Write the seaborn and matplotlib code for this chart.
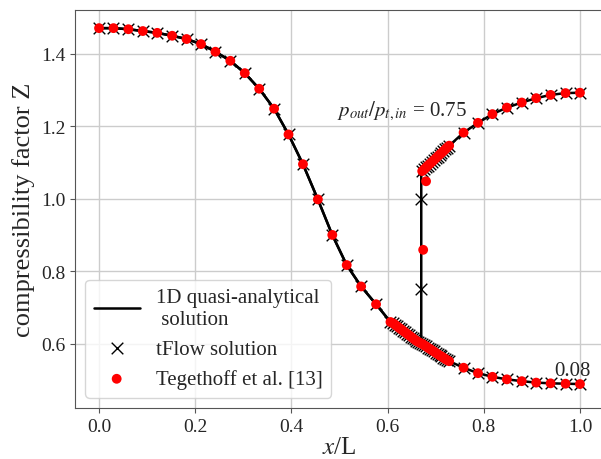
import numpy as np
import pandas as pd
import seaborn as sns
import matplotlib.pyplot as plt

# upstream part, shared by both outlet pressures (coarse grid)
x_up = [0.000, 0.030, 0.061, 0.091, 0.121, 0.152, 0.182, 0.212, 0.242, 0.273, 0.303,
        0.333, 0.364, 0.394, 0.424, 0.455, 0.485, 0.515, 0.545, 0.576, 0.606]
z_up = [1.470, 1.470, 1.467, 1.462, 1.457, 1.449, 1.440, 1.426, 1.405, 1.380, 1.346,
        1.303, 1.248, 1.177, 1.095, 0.998, 0.900, 0.817, 0.758, 0.709, 0.660]

# refined cells ahead of the shock
x_ref_up = [0.612, 0.616, 0.620, 0.624, 0.628, 0.632, 0.636, 0.640, 0.644, 0.648,
            0.652, 0.656, 0.660, 0.664, 0.668]
z_ref_up = [0.656, 0.652, 0.648, 0.644, 0.640, 0.636, 0.632, 0.628, 0.624, 0.620,
            0.616, 0.612, 0.608, 0.605, 0.602]

# refined cells behind the shock
x_ref_dn = [0.672, 0.676, 0.680, 0.684, 0.688, 0.692, 0.696, 0.700, 0.704, 0.708,
            0.712, 0.716, 0.720, 0.724, 0.728]
z_ref_low = [0.600, 0.596, 0.593, 0.589, 0.586, 0.582, 0.579, 0.575, 0.572, 0.568,
             0.565, 0.562, 0.558, 0.555, 0.552]  # p_out/p_t,in = 0.08
z_ref_high = [1.076, 1.081, 1.086, 1.091, 1.096, 1.101, 1.106, 1.111, 1.116, 1.121,
              1.126, 1.131, 1.136, 1.141, 1.146]  # p_out/p_t,in = 0.75

# coarse grid downstream
x_dn = [0.758, 0.788, 0.818, 0.848, 0.879, 0.909, 0.939, 0.970, 1.000]
z_dn_low = [0.534, 0.519, 0.509, 0.502, 0.497, 0.493, 0.491, 0.490, 0.489]
z_dn_high = [1.182, 1.209, 1.233, 1.251, 1.265, 1.277, 1.286, 1.291, 1.292]

# shock
x_shock = 0.670
z_shock = [0.602, 1.076]
z_tflow_shock = [1.000, 0.750]
x_teg_shock = [0.680, 0.674]
z_teg_shock = [1.048, 0.859]

x_front = x_up + x_ref_up
z_front = z_up + z_ref_up
x_back = x_ref_dn + x_dn
line_75 = pd.DataFrame({"x": x_front + [x_shock, x_shock] + x_back,
                        "z": z_front + z_shock + z_ref_high + z_dn_high})
line_08 = pd.DataFrame({"x": x_front + x_back, "z": z_front + z_ref_low + z_dn_low})

pts = pd.DataFrame({"x": x_front + x_back + x_back,
                    "z": z_front + z_ref_low + z_dn_low + z_ref_high + z_dn_high})
tflow = pd.concat([pts, pd.DataFrame({"x": [x_shock, x_shock], "z": z_tflow_shock})])
teg = pd.concat([pts, pd.DataFrame({"x": x_teg_shock, "z": z_teg_shock})])

sns.set_style("ticks")
plt.rcParams["font.family"] = ["Liberation Serif", "DejaVu Serif"]
plt.rcParams["mathtext.fontset"] = "stix"

fig = plt.figure(figsize=(6.01, 4.6), dpi=100)
ax = fig.add_axes([75 / 601, 1 - 409 / 460, 529 / 601, 398 / 460])

sns.lineplot(data=line_75, x="x", y="z", sort=False, estimator=None, color="black",
             linewidth=1.8, ax=ax, label="1D quasi-analytical\n solution", zorder=2)
sns.lineplot(data=line_08, x="x", y="z", sort=False, estimator=None, color="black",
             linewidth=1.8, ax=ax, zorder=2)
sns.scatterplot(data=tflow, x="x", y="z", marker="x", color="black", s=70,
                linewidth=1.0, ax=ax, label="tFlow solution", zorder=3)
sns.scatterplot(data=teg, x="x", y="z", marker="o", color="red", s=50,
                edgecolor="none", ax=ax, label="Tegethoff et al. [13]", zorder=4)

ax.text(0.495, 1.242, r"$p_{out}/p_{t,in}$ = 0.75", fontsize=15, va="center", ha="left")
ax.text(0.985, 0.527, "0.08", fontsize=15, va="center", ha="center")

ax.set_xlim(-0.05, 1.05)
ax.set_ylim(0.423, 1.520)
ax.set_xticks([0.0, 0.2, 0.4, 0.6, 0.8, 1.0])
ax.set_yticks([0.6, 0.8, 1.0, 1.2, 1.4])
ax.grid(True, color="#cccccc", linewidth=1.0)
ax.set_axisbelow(True)
ax.tick_params(labelsize=14, color="#555555")
for s in ax.spines.values():
    s.set_color("#555555")
ax.set_xlabel(r"$x$/L", fontsize=18, labelpad=1)
ax.set_ylabel("compressibility factor Z", fontsize=19, labelpad=4)
ax.legend(loc="lower left", fontsize=15, frameon=True, fancybox=True, handlelength=2.2)

fig.savefig("out.png", dpi=100)
